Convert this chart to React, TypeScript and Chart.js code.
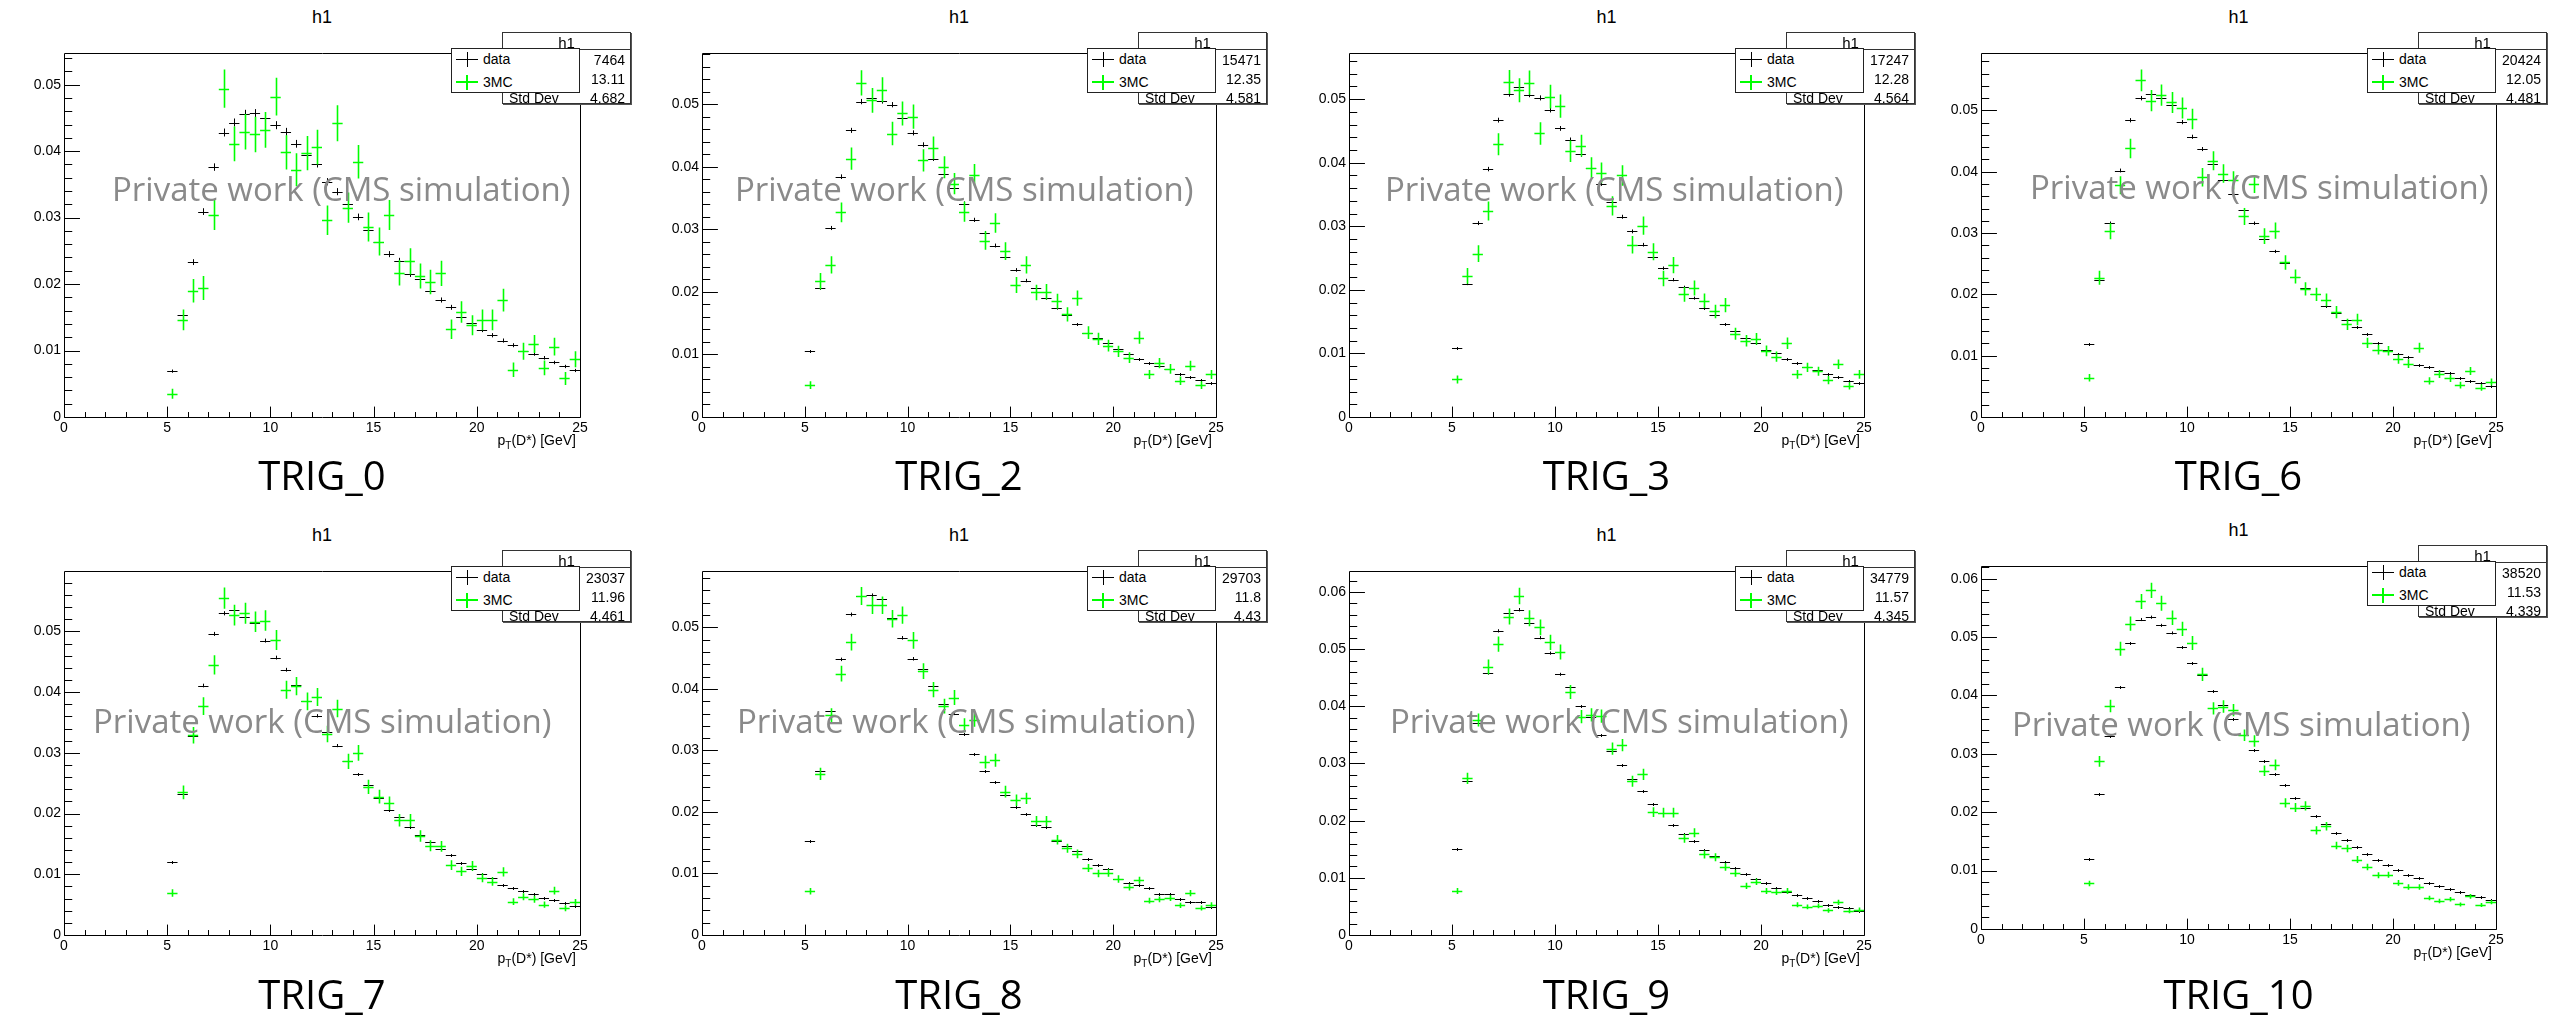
import React, { useEffect, useRef } from "react";
import { Chart, registerables } from "chart.js";

Chart.register(...registerables);

// ---------------- DATA ----------------
const panelNames = ["TRIG_0", "TRIG_2", "TRIG_3", "TRIG_6", "TRIG_7", "TRIG_8", "TRIG_9", "TRIG_10"];
const histTitle = "h1";
const legendLabels = ["data", "3MC"];
const statLabels = ["Entries", "Mean", "Std Dev"];

// bin centres of p_T(D*) [GeV], 0.5 GeV bins from 5 to 25
const binCenters = [
  5.25, 5.75, 6.25, 6.75, 7.25, 7.75, 8.25, 8.75, 9.25, 9.75,
  10.25, 10.75, 11.25, 11.75, 12.25, 12.75, 13.25, 13.75, 14.25, 14.75,
  15.25, 15.75, 16.25, 16.75, 17.25, 17.75, 18.25, 18.75, 19.25, 19.75,
  20.25, 20.75, 21.25, 21.75, 22.25, 22.75, 23.25, 23.75, 24.25, 24.75,
];
const binHalfWidth = 0.25;

const dataTRIG0 = [0.0069,0.0153,0.0233,0.0309,0.0376,0.0428,0.0443,0.0456,0.0457,0.0450,0.0439,0.0429,0.0411,0.0394,0.0381,0.0354,0.0339,0.0320,0.0301,0.0282,0.0263,0.0245,0.0235,0.0215,0.0207,0.0190,0.0176,0.0165,0.0150,0.0141,0.0131,0.0123,0.0115,0.0108,0.0100,0.0095,0.0089,0.0082,0.0076,0.0070];
const mcTRIG0 = [0.0035,0.0146,0.0190,0.0194,0.0304,0.0494,0.0411,0.0429,0.0425,0.0432,0.0482,0.0398,0.0372,0.0397,0.0406,0.0296,0.0442,0.0315,0.0384,0.0286,0.0264,0.0304,0.0217,0.0234,0.0212,0.0203,0.0216,0.0132,0.0158,0.0138,0.0146,0.0146,0.0176,0.0071,0.0099,0.0110,0.0074,0.0106,0.0058,0.0087];

const dataTRIG2 = [0.0106,0.0206,0.0302,0.0384,0.0458,0.0504,0.0510,0.0505,0.0499,0.0478,0.0454,0.0435,0.0413,0.0388,0.0366,0.0341,0.0315,0.0294,0.0274,0.0256,0.0235,0.0218,0.0206,0.0190,0.0174,0.0163,0.0149,0.0135,0.0126,0.0118,0.0109,0.0101,0.0093,0.0086,0.0081,0.0077,0.0069,0.0064,0.0059,0.0054];
const mcTRIG2 = [0.0051,0.0217,0.0243,0.0327,0.0413,0.0534,0.0506,0.0523,0.0453,0.0485,0.0480,0.0410,0.0430,0.0399,0.0373,0.0328,0.0387,0.0282,0.0310,0.0265,0.0211,0.0243,0.0199,0.0200,0.0185,0.0164,0.0190,0.0135,0.0125,0.0114,0.0105,0.0095,0.0127,0.0068,0.0086,0.0077,0.0058,0.0082,0.0051,0.0068];

const dataTRIG3 = [0.0109,0.0210,0.0305,0.0390,0.0467,0.0508,0.0519,0.0507,0.0502,0.0483,0.0454,0.0436,0.0413,0.0391,0.0367,0.0339,0.0315,0.0292,0.0271,0.0252,0.0234,0.0216,0.0204,0.0187,0.0172,0.0160,0.0147,0.0136,0.0124,0.0117,0.0106,0.0100,0.0092,0.0085,0.0079,0.0074,0.0067,0.0063,0.0057,0.0053];
const mcTRIG3 = [0.0059,0.0222,0.0257,0.0324,0.0429,0.0527,0.0514,0.0526,0.0446,0.0504,0.0489,0.0418,0.0427,0.0392,0.0384,0.0332,0.0380,0.0271,0.0301,0.0260,0.0218,0.0239,0.0193,0.0203,0.0183,0.0166,0.0176,0.0131,0.0120,0.0123,0.0104,0.0095,0.0116,0.0067,0.0078,0.0072,0.0058,0.0083,0.0049,0.0067];

const dataTRIG6 = [0.0119,0.0223,0.0316,0.0402,0.0484,0.0520,0.0526,0.0520,0.0509,0.0481,0.0457,0.0437,0.0413,0.0387,0.0364,0.0338,0.0316,0.0291,0.0270,0.0251,0.0229,0.0211,0.0200,0.0181,0.0169,0.0158,0.0146,0.0136,0.0121,0.0110,0.0103,0.0098,0.0084,0.0081,0.0075,0.0071,0.0063,0.0059,0.0055,0.0051];
const mcTRIG6 = [0.0064,0.0227,0.0303,0.0378,0.0438,0.0549,0.0516,0.0525,0.0513,0.0504,0.0486,0.0391,0.0418,0.0397,0.0386,0.0327,0.0380,0.0295,0.0304,0.0252,0.0229,0.0209,0.0200,0.0191,0.0171,0.0151,0.0159,0.0121,0.0110,0.0108,0.0094,0.0087,0.0113,0.0059,0.0070,0.0063,0.0052,0.0075,0.0048,0.0057];

const dataTRIG7 = [0.0121,0.0232,0.0328,0.0411,0.0496,0.0530,0.0535,0.0524,0.0514,0.0485,0.0457,0.0437,0.0412,0.0385,0.0361,0.0334,0.0312,0.0286,0.0266,0.0247,0.0226,0.0206,0.0194,0.0178,0.0164,0.0154,0.0142,0.0132,0.0118,0.0108,0.0101,0.0094,0.0082,0.0078,0.0072,0.0068,0.0061,0.0058,0.0052,0.0048];
const mcTRIG7 = [0.0069,0.0235,0.0329,0.0377,0.0445,0.0555,0.0527,0.0530,0.0516,0.0518,0.0486,0.0404,0.0410,0.0385,0.0392,0.0331,0.0373,0.0286,0.0300,0.0244,0.0228,0.0217,0.0189,0.0189,0.0163,0.0147,0.0146,0.0115,0.0105,0.0114,0.0094,0.0088,0.0104,0.0055,0.0063,0.0059,0.0050,0.0073,0.0044,0.0054];

const dataTRIG8 = [0.0152,0.0267,0.0364,0.0448,0.0521,0.0551,0.0552,0.0546,0.0515,0.0483,0.0449,0.0432,0.0404,0.0376,0.0360,0.0326,0.0294,0.0267,0.0249,0.0227,0.0208,0.0197,0.0178,0.0175,0.0153,0.0145,0.0137,0.0124,0.0114,0.0108,0.0091,0.0085,0.0082,0.0076,0.0066,0.0066,0.0059,0.0053,0.0053,0.0045];
const mcTRIG8 = [0.0071,0.0262,0.0357,0.0425,0.0476,0.0551,0.0536,0.0536,0.0514,0.0520,0.0479,0.0429,0.0399,0.0372,0.0386,0.0341,0.0350,0.0281,0.0284,0.0233,0.0219,0.0222,0.0185,0.0185,0.0155,0.0141,0.0132,0.0109,0.0100,0.0101,0.0091,0.0078,0.0089,0.0056,0.0058,0.0060,0.0048,0.0068,0.0044,0.0049];

const dataTRIG9 = [0.0151,0.0269,0.0370,0.0458,0.0532,0.0563,0.0569,0.0545,0.0520,0.0493,0.0456,0.0433,0.0401,0.0382,0.0350,0.0322,0.0297,0.0273,0.0252,0.0230,0.0214,0.0193,0.0176,0.0165,0.0149,0.0138,0.0128,0.0118,0.0107,0.0098,0.0091,0.0082,0.0076,0.0070,0.0064,0.0060,0.0053,0.0049,0.0047,0.0042];
const mcTRIG9 = [0.0077,0.0274,0.0376,0.0469,0.0509,0.0557,0.0593,0.0554,0.0538,0.0512,0.0495,0.0425,0.0382,0.0385,0.0383,0.0326,0.0332,0.0269,0.0281,0.0215,0.0214,0.0214,0.0169,0.0179,0.0141,0.0136,0.0119,0.0108,0.0086,0.0093,0.0077,0.0075,0.0077,0.0053,0.0049,0.0051,0.0043,0.0057,0.0042,0.0044];

const dataTRIG10 = [0.0120,0.0232,0.0330,0.0415,0.0489,0.0530,0.0534,0.0520,0.0507,0.0483,0.0456,0.0435,0.0408,0.0383,0.0360,0.0333,0.0307,0.0287,0.0265,0.0246,0.0225,0.0208,0.0194,0.0180,0.0165,0.0152,0.0141,0.0129,0.0118,0.0110,0.0101,0.0093,0.0087,0.0079,0.0074,0.0069,0.0063,0.0058,0.0054,0.0049];
const mcTRIG10 = [0.0078,0.0287,0.0382,0.0480,0.0523,0.0561,0.0580,0.0558,0.0533,0.0514,0.0490,0.0436,0.0378,0.0381,0.0375,0.0332,0.0322,0.0271,0.0281,0.0216,0.0208,0.0211,0.0169,0.0176,0.0143,0.0138,0.0119,0.0106,0.0092,0.0093,0.0079,0.0072,0.0072,0.0053,0.0048,0.0051,0.0042,0.0056,0.0041,0.0046];

const dataSeries = [dataTRIG0, dataTRIG2, dataTRIG3, dataTRIG6, dataTRIG7, dataTRIG8, dataTRIG9, dataTRIG10];
const mcSeries = [mcTRIG0, mcTRIG2, mcTRIG3, mcTRIG6, mcTRIG7, mcTRIG8, mcTRIG9, mcTRIG10];

// effective statistics used for the (normalised) histogram error bars
const dataEffEntries = [120000, 280000, 320000, 400000, 450000, 550000, 650000, 750000];
const mcEffEntries = [6000, 13000, 14500, 17500, 18000, 26000, 28600, 34000];

// stats box values
const statEntries = ["7464", "15471", "17247", "20424", "23037", "29703", "34779", "38520"];
const statMeans = ["13.11", "12.35", "12.28", "12.05", "11.96", "11.8", "11.57", "11.53"];
const statStdDevs = ["4.682", "4.581", "4.564", "4.481", "4.461", "4.43", "4.345", "4.339"];

// axis ranges
const xMin = 0;
const xMax = 25;
const xMajorStep = 5;
const xMinorStep = 1;
const yMaxes = [0.0547, 0.0581, 0.0572, 0.0593, 0.0599, 0.0591, 0.0636, 0.0621];
const yMajorStep = 0.01;
const yMinorStep = 0.002;

const watermarkText = "Private work (CMS simulation)";

// ---------------- LAYOUT / STYLE ----------------
const frames = [
  { l: 64, t: 48, w: 516, h: 369 },
  { l: 702, t: 48, w: 514, h: 369 },
  { l: 1349, t: 48, w: 515, h: 369 },
  { l: 1981, t: 48, w: 515, h: 369 },
  { l: 64, t: 566, w: 516, h: 369 },
  { l: 702, t: 566, w: 514, h: 369 },
  { l: 1349, t: 566, w: 515, h: 369 },
  { l: 1981, t: 561, w: 515, h: 368 },
];
const trigCenterY = [476, 476, 476, 476, 995, 995, 995, 995];
const wmOffsetX = [48, 33, 36, 49, 29, 35, 41, 31];
const wmCenterY = [190, 190, 190, 188, 722, 722, 722, 725];

const PADL = 62;
const PADT = 6;
const PADR = 16;
const PADB = 26;

const ROOT_FONT = "'Liberation Sans', Arial, Helvetica, sans-serif";
const SANS_FONT = "'Open Sans', 'Noto Sans', sans-serif";
const DATA_COLOR = "#000000";
const MC_COLOR = "#00ff00";
const WM_COLOR = "#8a8a8a";

// ---------------- PLUGIN ----------------
const rootStylePlugin = {
  id: "rootStyle",
  afterDatasetsDraw(chart: any) {
    const { ctx, chartArea: a } = chart;
    const xs = chart.scales.x;
    const ys = chart.scales.y;
    ctx.save();
    ctx.beginPath();
    ctx.rect(a.left, a.top, a.right - a.left, a.bottom - a.top);
    ctx.clip();
    chart.data.datasets.forEach((ds: any) => {
      ctx.strokeStyle = ds.borderColor;
      ctx.lineWidth = ds.borderWidth;
      ctx.beginPath();
      ds.data.forEach((p: any) => {
        const xl = xs.getPixelForValue(p.x - p.hw);
        const xr = xs.getPixelForValue(p.x + p.hw);
        const xc = Math.round(xs.getPixelForValue(p.x)) + 0.5;
        const yc = Math.round(ys.getPixelForValue(p.y)) + 0.5;
        let yt = ys.getPixelForValue(p.y + p.e);
        let yb = ys.getPixelForValue(p.y - p.e);
        if (yb - yt < 3) {
          yt = yc - 1.5;
          yb = yc + 1.5;
        }
        ctx.moveTo(xl, yc);
        ctx.lineTo(xr, yc);
        ctx.moveTo(xc, yt);
        ctx.lineTo(xc, yb);
      });
      ctx.stroke();
    });
    ctx.restore();

    // frame + inward ticks (ROOT style)
    ctx.save();
    ctx.strokeStyle = "#000";
    ctx.lineWidth = 1;
    const L = Math.round(a.left) + 0.5;
    const R = Math.round(a.right) + 0.5;
    const T = Math.round(a.top) + 0.5;
    const B = Math.round(a.bottom) + 0.5;
    const W = a.right - a.left;
    const H = a.bottom - a.top;
    ctx.beginPath();
    ctx.rect(L, T, R - L, B - T);
    const nx = Math.round((xs.max - xs.min) / xMinorStep);
    const perMajorX = Math.round(xMajorStep / xMinorStep);
    for (let k = 0; k <= nx; k++) {
      const v = xs.min + k * xMinorStep;
      const px = Math.round(xs.getPixelForValue(v)) + 0.5;
      const len = k % perMajorX === 0 ? 0.03 * H : 0.015 * H;
      ctx.moveTo(px, B);
      ctx.lineTo(px, B - len);
    }
    const perMajorY = Math.round(yMajorStep / yMinorStep);
    for (let k = 0; k * yMinorStep <= ys.max + 1e-12; k++) {
      const v = k * yMinorStep;
      const py = Math.round(ys.getPixelForValue(v)) + 0.5;
      const len = k % perMajorY === 0 ? 0.03 * W : 0.015 * W;
      ctx.moveTo(L, py);
      ctx.lineTo(L + len, py);
    }
    ctx.stroke();
    ctx.restore();
  },
};

// ---------------- COMPONENTS ----------------
function Txt(props: { x: number; cy: number; size: number; font: string; color?: string; align?: "left" | "center" | "right"; children: any; weight?: number; capRatio?: number; z?: number }) {
  const { x, cy, size, font, color = "#000", align = "left", children, weight = 400, capRatio = 0.4885, z = 2 } = props;
  const w = 700;
  let left = x;
  if (align === "center") left = x - w / 2;
  if (align === "right") left = x - w;
  return (
    <div
      style={{
        position: "absolute",
        left,
        top: cy - capRatio * size,
        width: w,
        textAlign: align,
        fontFamily: font,
        fontSize: size,
        lineHeight: `${size}px`,
        fontWeight: weight,
        color,
        whiteSpace: "nowrap",
        pointerEvents: "none",
        zIndex: z,
      }}
    >
      {children}
    </div>
  );
}

function Panel({ i }: { i: number }) {
  const ref = useRef<HTMLCanvasElement | null>(null);
  const f = frames[i];
  const cw = f.w + PADL + PADR;
  const ch = f.h + PADT + PADB;

  useEffect(() => {
    if (!ref.current) return;
    const mk = (vals: number[], eff: number) =>
      binCenters.map((x, k) => ({ x, y: vals[k], e: Math.sqrt(vals[k] / eff), hw: binHalfWidth }));
    const chart = new Chart(ref.current, {
      type: "scatter",
      data: {
        datasets: [
          { label: legendLabels[0], data: mk(dataSeries[i], dataEffEntries[i]), borderColor: DATA_COLOR, backgroundColor: DATA_COLOR, borderWidth: 1, pointRadius: 0, showLine: false } as any,
          { label: legendLabels[1], data: mk(mcSeries[i], mcEffEntries[i]), borderColor: MC_COLOR, backgroundColor: MC_COLOR, borderWidth: 1.6, pointRadius: 0, showLine: false } as any,
        ],
      },
      options: {
        animation: false,
        responsive: false,
        maintainAspectRatio: false,
        devicePixelRatio: 1,
        events: [],
        layout: { padding: { left: 0, top: PADT, right: PADR, bottom: 0 } },
        plugins: { legend: { display: false }, title: { display: false }, tooltip: { enabled: false } },
        scales: {
          x: {
            type: "linear",
            min: xMin,
            max: xMax,
            afterFit: (s: any) => { s.height = PADB; },
            grid: { display: false, drawTicks: false },
            border: { display: false },
            ticks: {
              stepSize: xMajorStep,
              padding: 3,
              color: "#000",
              maxRotation: 0,
              autoSkip: false,
              font: { family: ROOT_FONT, size: 14 },
              callback: (v: any) => String(v),
            },
          },
          y: {
            type: "linear",
            min: 0,
            max: yMaxes[i],
            afterFit: (s: any) => { s.width = PADL; },
            grid: { display: false, drawTicks: false },
            border: { display: false },
            ticks: {
              stepSize: yMajorStep,
              includeBounds: false,
              padding: 3,
              color: "#000",
              autoSkip: false,
              font: { family: ROOT_FONT, size: 14 },
              callback: (v: any) => (Math.abs(v) < 1e-12 ? "0" : Number(v).toFixed(2)),
            },
          },
        },
      } as any,
      plugins: [rootStylePlugin],
    });
    return () => chart.destroy();
  }, [i]);

  const FR = f.l + f.w;
  const FB = f.t + f.h;
  const cx = f.l + f.w / 2;
  const stL = FR - 78;
  const stW = 129;
  const stT = f.t - 16;
  const stH = 72;
  const lgL = FR - 129;
  const lgW = 129;
  const lgT = f.t;
  const lgH = 45;

  const cross = (lx: number, cy: number, color: string, thick: number) => (
    <>
      <div style={{ position: "absolute", left: lx + 5, top: cy - thick / 2, width: 22, height: thick, background: color }} />
      <div style={{ position: "absolute", left: lx + 16 - thick / 2, top: cy - 7.5, width: thick, height: 15, background: color }} />
    </>
  );

  return (
    <>
      <canvas
        ref={ref}
        width={cw}
        height={ch}
        style={{ position: "absolute", left: f.l - PADL, top: f.t - PADT, width: cw, height: ch, zIndex: 1 }}
      />
      {/* title */}
      <Txt x={cx} cy={f.t - 31} size={18} font={ROOT_FONT} align="center">{histTitle}</Txt>
      {/* watermark */}
      <Txt x={f.l + wmOffsetX[i]} cy={wmCenterY[i]} size={33} font={SANS_FONT} color={WM_COLOR} capRatio={0.531} z={3}>
        {watermarkText}
      </Txt>
      {/* x axis title */}
      <Txt x={FR - 4} cy={FB + 23} size={14} font={ROOT_FONT} align="right">
        p<span style={{ fontSize: 10, position: "relative", top: 4 }}>T</span>(D*) [GeV]
      </Txt>
      {/* TRIG label */}
      <Txt x={cx} cy={trigCenterY[i]} size={40} font={SANS_FONT} align="center" capRatio={0.531}>
        {panelNames[i]}
      </Txt>
      {/* stats box */}
      <div
        style={{
          position: "absolute",
          left: stL,
          top: stT,
          width: stW,
          height: stH,
          boxSizing: "border-box",
          border: "1px solid #333",
          boxShadow: "1px 1px 0 #555",
          background: "#fff",
          zIndex: 4,
          fontFamily: ROOT_FONT,
          fontSize: 14,
        }}
      >
        <div style={{ position: "absolute", left: 0, right: 0, top: 16, height: 1, background: "#333" }} />
        <div style={{ position: "absolute", left: 0, width: stW - 2, top: 9 - 0.4885 * 15, lineHeight: "15px", fontSize: 15, textAlign: "center" }}>{histTitle}</div>
        {[statEntries[i], statMeans[i], statStdDevs[i]].map((val, r) => (
          <React.Fragment key={r}>
            <div style={{ position: "absolute", left: 6, top: 27 + r * 19 - 0.4885 * 14, lineHeight: "14px" }}>{statLabels[r]}</div>
            <div style={{ position: "absolute", right: 5, top: 27 + r * 19 - 0.4885 * 14, lineHeight: "14px", textAlign: "right" }}>{val}</div>
          </React.Fragment>
        ))}
      </div>
      {/* legend */}
      <div
        style={{
          position: "absolute",
          left: lgL,
          top: lgT,
          width: lgW,
          height: lgH,
          boxSizing: "border-box",
          border: "1px solid #222",
          background: "#fff",
          zIndex: 5,
          fontFamily: ROOT_FONT,
          fontSize: 14,
        }}
      >
        {cross(-1, 10, DATA_COLOR, 1)}
        {cross(-1, 33, MC_COLOR, 2)}
        <div style={{ position: "absolute", left: 31, top: 10 - 0.4885 * 14, lineHeight: "14px" }}>{legendLabels[0]}</div>
        <div style={{ position: "absolute", left: 31, top: 33 - 0.4885 * 14, lineHeight: "14px" }}>{legendLabels[1]}</div>
      </div>
    </>
  );
}

export default function App() {
  return (
    <div
      style={{
        position: "fixed",
        left: 0,
        top: 0,
        width: 2549,
        height: 1025,
        background: "#fff",
        overflow: "hidden",
      }}
    >
      {panelNames.map((_, i) => (
        <Panel key={i} i={i} />
      ))}
    </div>
  );
}
